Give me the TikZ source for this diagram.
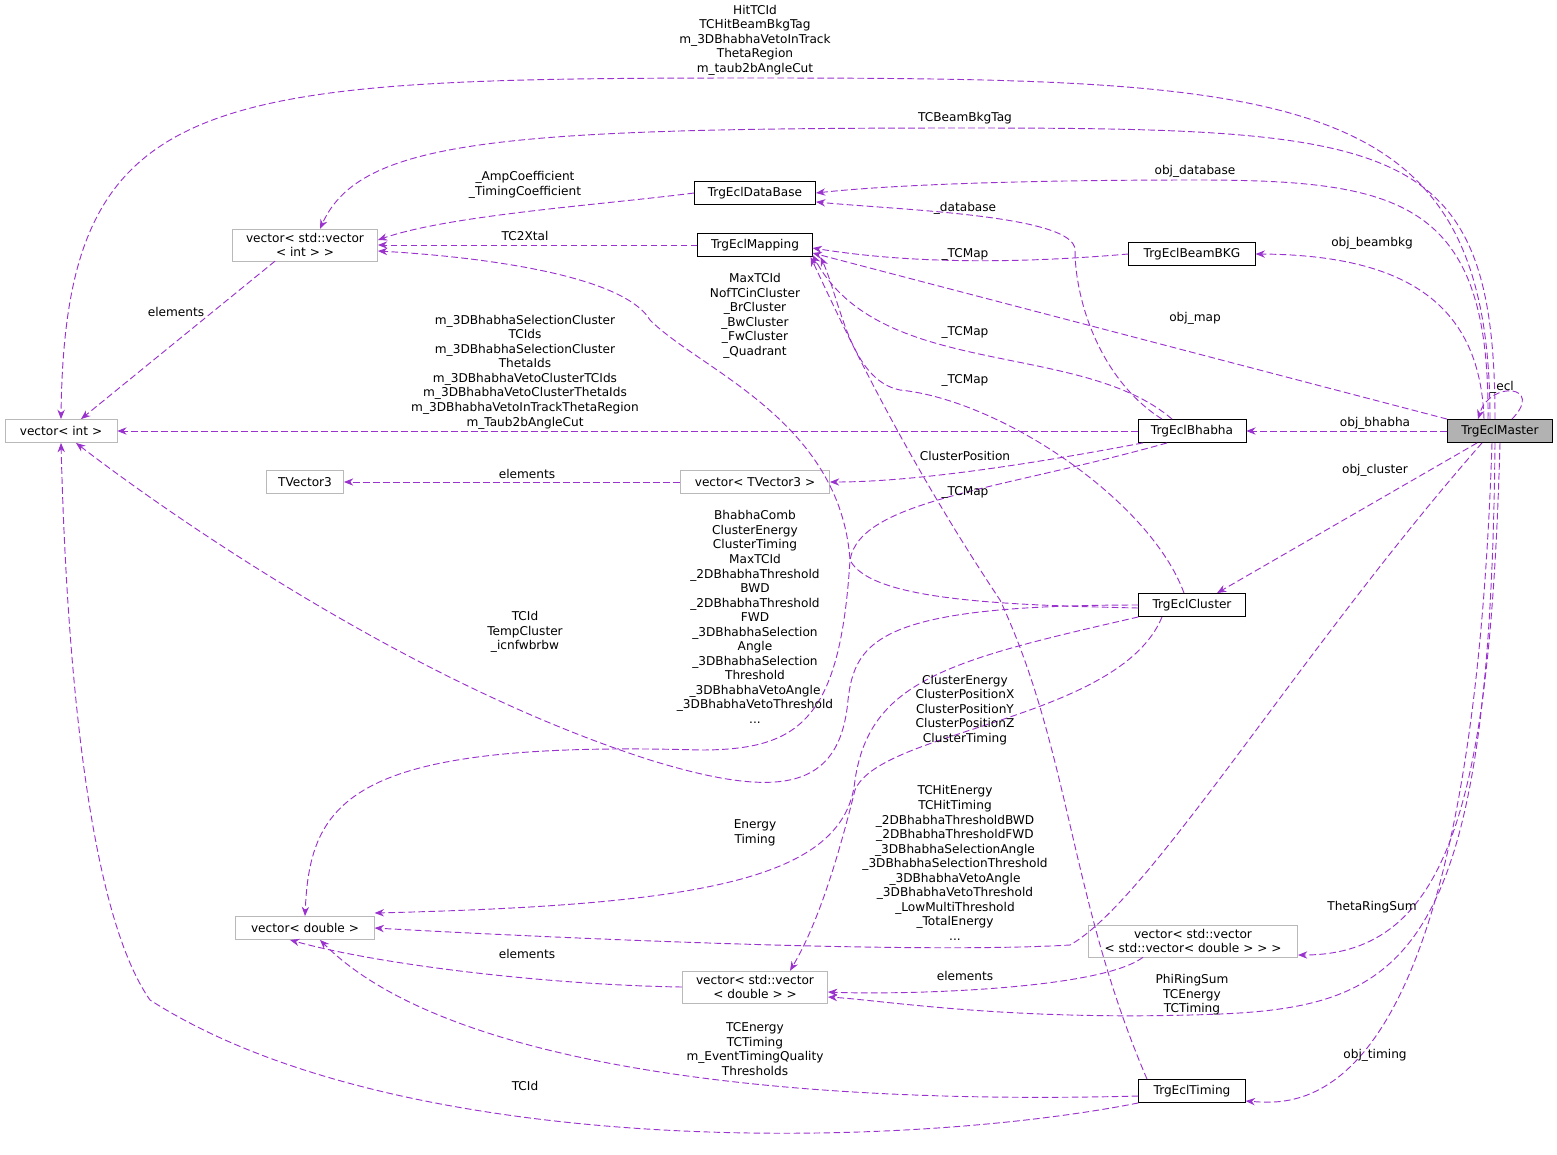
\documentclass[tikz,border=0pt]{standalone}
\usepackage{fontspec}
\setmainfont{DejaVu Sans}
\usetikzlibrary{arrows.meta,calc}
\definecolor{ed}{HTML}{9A32CD}
\begin{document}
\begin{tikzpicture}[x=0.75pt,y=-0.75pt,
  every node/.style={font=\fontsize{9.1}{10.9}\selectfont},
  cls/.style={draw=black,fill=white,minimum height=17.5pt,inner sep=3pt,align=center},
  ext/.style={draw=gray!55,fill=white,minimum height=17.5pt,inner sep=3pt,align=center},
  e/.style={draw=ed,line width=0.7pt,dash pattern=on 5pt off 2.5pt,-{Stealth[length=7pt,width=5.5pt]}},
  lb/.style={align=center,inner sep=0pt}]
\useasboundingbox (0,0) rectangle (1557,1154);
\node[cls,fill=gray!60,minimum width=79pt] (master) at (1500,431) {TrgEclMaster};
\node[cls,minimum width=81pt] (bhabha) at (1192,431) {TrgEclBhabha};
\node[cls,minimum width=80pt] (cluster) at (1192,605) {TrgEclCluster};
\node[cls,minimum width=80pt] (timing) at (1192,1091) {TrgEclTiming};
\node[cls,minimum width=95pt] (bkg) at (1192,254) {TrgEclBeamBKG};
\node[cls,minimum width=91pt] (db) at (755,193) {TrgEclDataBase};
\node[cls,minimum width=86pt] (map) at (755,245) {TrgEclMapping};
\node[ext,minimum width=109pt] (vvint) at (305,245) {vector< std::vector\\< int > >};
\node[ext,minimum width=84pt] (vint) at (61,431) {vector< int >};
\node[ext,minimum width=58pt] (tv) at (305,482) {TVector3};
\node[ext,minimum width=112pt] (vtv) at (755,482) {vector< TVector3 >};
\node[ext,minimum width=104pt] (vdouble) at (305,928) {vector< double >};
\node[ext,minimum width=109pt] (vvd) at (755,987) {vector< std::vector\\< double > >};
\node[ext,minimum width=157pt] (vvvd) at (1193,941) {vector< std::vector\\< std::vector< double > > >};

% Master edges
\draw[e] ($(master.north)+(-10,0)$) .. controls (1490,90) and (1300,78) .. (755,78) .. controls (200,78) and (65,90) .. (vint.north);
\node[lb] (l1) at (755,40) {HitTCId\\TCHitBeamBkgTag\\m\_3DBhabhaVetoInTrack\\ThetaRegion\\m\_taub2bAngleCut};
\draw[e] ($(master.north)+(-5,0)$) .. controls (1495,140) and (1400,128) .. (965,128) .. controls (500,128) and (360,140) .. ($(vvint.north)+(15,0)$);
\node[lb] (l2) at (965,118) {TCBeamBkgTag};
\draw[e] ($(master.north)+(-12,0)$) .. controls (1490,200) and (1400,180) .. (1195,180) .. controls (1000,180) and (880,186) .. (db.east);
\node[lb] (l3) at (1195,171) {obj\_database};
\draw[e] ($(master.north)+(-16,0)$) .. controls (1480,300) and (1400,255) .. (bkg.east);
\node[lb] (l4) at (1372,243) {obj\_beambkg};
\draw[e] (master.north west) -- ($(map.east)+(0,8)$);
\node[lb] (l5) at (1195,318) {obj\_map};
\draw[e] (master.west) -- (bhabha.east);
\node[lb] (l6) at (1375,423) {obj\_bhabha};
\draw[e] ($(master.south west)+(30,0)$) -- ($(cluster.north)+(25,0)$);
\node[lb] (l7) at (1375,470) {obj\_cluster};
\draw[e] ($(master.south)+(-18,0)$) .. controls (1300,650) and (1150,900) .. (1070,945) .. controls (900,955) and (500,935) .. (vdouble.east);
\node[lb] (l8) at (955,863) {TCHitEnergy\\TCHitTiming\\\_2DBhabhaThresholdBWD\\\_2DBhabhaThresholdFWD\\\_3DBhabhaSelectionAngle\\\_3DBhabhaSelectionThreshold\\\_3DBhabhaVetoAngle\\\_3DBhabhaVetoThreshold\\\_LowMultiThreshold\\\_TotalEnergy\\...};
\draw[e] (master.south) .. controls (1490,800) and (1450,955) .. ($(vvvd.east)+(0,14)$);
\node[lb] (l9) at (1372,907) {ThetaRingSum};
\draw[e] ($(master.south)+(-5,0)$) .. controls (1490,980) and (1400,1010) .. (1190,1015) .. controls (1000,1020) and (880,1000) .. ($(vvd.east)+(0,10)$);
\node[lb] (l10) at (1192,995) {PhiRingSum\\TCEnergy\\TCTiming};
\draw[e] ($(master.south)+(-8,0)$) .. controls (1470,1120) and (1300,1105) .. ($(timing.east)+(0,10)$);
\node[lb] (l11) at (1375,1055) {obj\_timing};
\draw[e] ($(master.north)+(12,0)$) .. controls (1545,385) and (1490,380) .. ($(master.north)+(-22,0)$);
\node[lb] (l12) at (1502,387) {\_ecl};

% other edges
\draw[e] (db.west) .. controls (600,205) and (450,215) .. ($(vvint.east)+(0,-5)$);
\node[lb] (l13) at (525,185) {\_AmpCoefficient\\\_TimingCoefficient};
\draw[e] (map.west) -- (vvint.east);
\node[lb] (l14) at (525,236) {TC2Xtal};
\draw[e] (bkg.west) .. controls (1000,265) and (900,262) .. ($(map.east)+(0,3)$);
\node[lb] (l15) at (965,254) {\_TCMap};
\draw[e] ($(bhabha.north)+(-20,0)$) .. controls (1080,340) and (880,380) .. ($(map.south east)+(0,-2)$);
\node[lb] (l16) at (965,332) {\_TCMap};
\draw[e] ($(bhabha.north)+(-30,0)$) .. controls (1100,380) and (1075,300) .. (1075,250) .. controls (1075,215) and (900,210) .. ($(db.south east)+(0,-3)$);
\node[lb] (l17) at (965,208) {\_database};
\draw[e] (bhabha.west) -- (vint.east);
\node[lb] (l18) at (525,372) {m\_3DBhabhaSelectionCluster\\TCIds\\m\_3DBhabhaSelectionCluster\\ThetaIds\\m\_3DBhabhaVetoClusterTCIds\\m\_3DBhabhaVetoClusterThetaIds\\m\_3DBhabhaVetoInTrackThetaRegion\\m\_Taub2bAngleCut};
\draw[e] ($(bhabha.south west)+(5,0)$) .. controls (1000,470) and (900,482) .. (vtv.east);
\node[lb] (l19) at (965,456) {ClusterPosition};
\draw[e] ($(bhabha.south)+(-25,0)$) .. controls (1000,490) and (860,500) .. (850,560) .. controls (840,720) and (800,750) .. (700,750) .. controls (350,740) and (310,800) .. (vdouble.north);
\node[lb] (l20) at (755,617) {BhabhaComb\\ClusterEnergy\\ClusterTiming\\MaxTCId\\\_2DBhabhaThreshold\\BWD\\\_2DBhabhaThreshold\\FWD\\\_3DBhabhaSelection\\Angle\\\_3DBhabhaSelection\\Threshold\\\_3DBhabhaVetoAngle\\\_3DBhabhaVetoThreshold\\...};
\draw[e] (cluster.west) .. controls (880,605) and (855,640) .. (848,700) .. controls (840,790) and (780,800) .. (650,760) .. controls (400,680) and (150,500) .. ($(vint.south)+(15,0)$);
\node[lb] (l21) at (525,632) {TCId\\TempCluster\\\_icnfwbrbw};
\draw[e] (cluster.south west) .. controls (950,660) and (870,680) .. (855,780) .. controls (845,880) and (700,905) .. ($(vdouble.east)+(0,-15)$);
\node[lb] (l22) at (755,833) {Energy\\Timing};
\draw[e] ($(cluster.south)+(-30,0)$) .. controls (1120,720) and (880,730) .. (855,790) .. controls (840,850) and (820,920) .. ($(vvd.north)+(35,0)$);
\node[lb] (l23) at (965,710) {ClusterEnergy\\ClusterPositionX\\ClusterPositionY\\ClusterPositionZ\\ClusterTiming};
\draw[e] ($(cluster.north)+(-8,0)$) .. controls (1150,500) and (1000,400) .. (900,390) .. controls (850,380) and (840,300) .. ($(map.south east)+(8,0)$);
\node[lb] (l24) at (965,380) {\_TCMap};
\draw[e] ($(cluster.west)+(0,3)$) .. controls (1000,605) and (870,600) .. (850,560) .. controls (840,420) and (700,370) .. (650,320) .. controls (620,270) and (450,255) .. ($(vvint.east)+(0,6)$);
\node[lb] (l25) at (755,316) {MaxTCId\\NofTCinCluster\\\_BrCluster\\\_BwCluster\\\_FwCluster\\\_Quadrant};
\draw[e] ($(timing.north)+(-45,0)$) .. controls (1070,900) and (1070,750) .. (1000,600) .. controls (900,450) and (840,320) .. ($(map.south east)+(-2,0)$);
\node[lb] (l26) at (965,492) {\_TCMap};
\draw[e] ($(timing.west)+(0,5)$) .. controls (800,1105) and (450,1070) .. ($(vdouble.south)+(15,0)$);
\node[lb] (l27) at (755,1049) {TCEnergy\\TCTiming\\m\_EventTimingQuality\\Thresholds};
\draw[e] (timing.south west) .. controls (900,1150) and (400,1160) .. (150,1000) .. controls (80,900) and (65,600) .. (vint.south);
\node[lb] (l28) at (525,1086) {TCId};
\draw[e] ($(vvint.south)+(-30,0)$) -- ($(vint.north)+(20,0)$);
\node[lb] (l29) at (176,312) {elements};
\draw[e] (vtv.west) -- (tv.east);
\node[lb] (l30) at (527,474) {elements};
\draw[e] (vvd.west) .. controls (550,985) and (380,965) .. ($(vdouble.south)+(-15,0)$);
\node[lb] (l31) at (527,954) {elements};
\draw[e] ($(vvvd.south)+(-50,0)$) .. controls (1100,990) and (900,995) .. ($(vvd.east)+(0,5)$);
\node[lb] (l32) at (965,976) {elements};
\end{tikzpicture}
\end{document}
